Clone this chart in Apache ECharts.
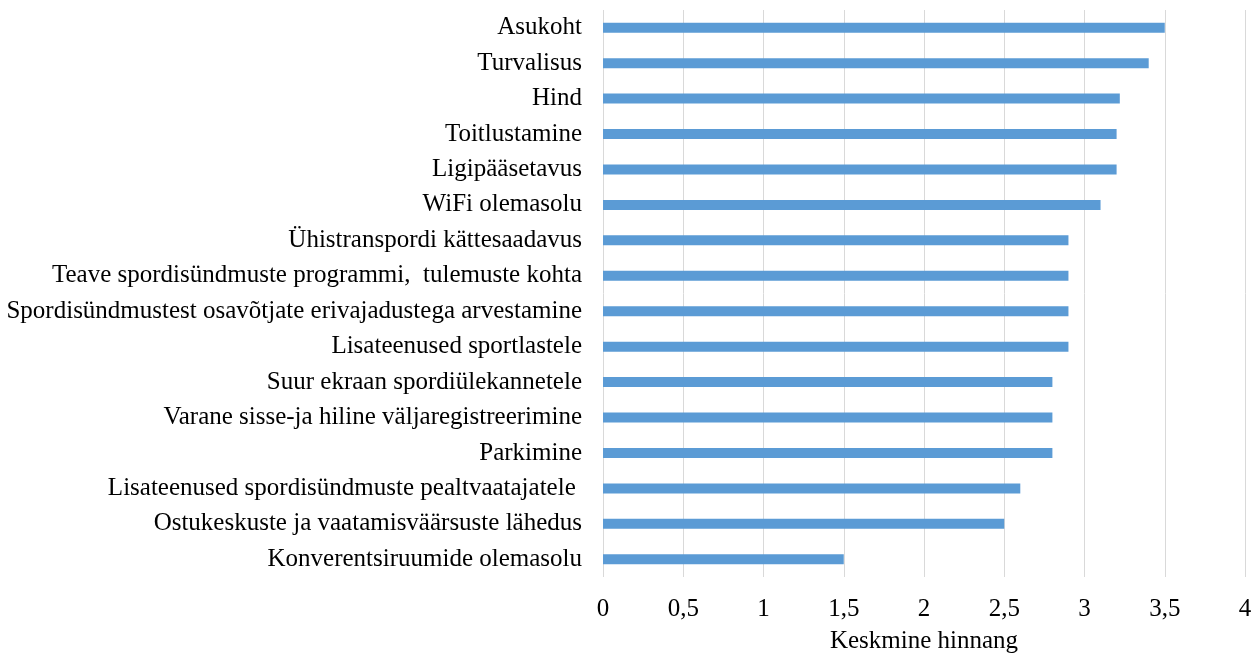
<!DOCTYPE html>
<html><head><meta charset="utf-8">
<script src="https://cdn.jsdelivr.net/npm/echarts@6/dist/echarts.min.js"></script>
<style>html,body{margin:0;padding:0;background:#fff}#c{width:1252px;height:654px}</style>
</head><body><div id="c"></div>
<script>
const categories = [
  "Asukoht",
  "Turvalisus",
  "Hind",
  "Toitlustamine",
  "Ligipääsetavus",
  "WiFi olemasolu",
  "Ühistranspordi kättesaadavus",
  "Teave spordisündmuste programmi,  tulemuste kohta",
  "Spordisündmustest osavõtjate erivajadustega arvestamine",
  "Lisateenused sportlastele",
  "Suur ekraan spordiülekannetele",
  "Varane sisse-ja hiline väljaregistreerimine",
  "Parkimine",
  "Lisateenused spordisündmuste pealtvaatajatele ",
  "Ostukeskuste ja vaatamisväärsuste lähedus",
  "Konverentsiruumide olemasolu"
];
const values = [3.5, 3.4, 3.22, 3.2, 3.2, 3.1, 2.9, 2.9, 2.9, 2.9, 2.8, 2.8, 2.8, 2.6, 2.5, 1.5];
const xTitle = "Keskmine hinnang";

const chart = echarts.init(document.getElementById('c'));
chart.setOption({
  animation: false,
  grid: {left: 603, right: 7, top: 10, bottom: 77, containLabel: false, outerBoundsMode: 'none'},
  xAxis: {
    type: 'value', min: 0, max: 4, interval: 0.5,
    name: xTitle, nameLocation: 'middle', nameGap: 52,
    nameTextStyle: {fontFamily: 'Liberation Serif', fontSize: 25, color: '#000'},
    axisLine: {show: false}, axisTick: {show: false},
    axisLabel: {fontFamily: 'Liberation Serif', fontSize: 25, color: '#000', margin: 20,
      formatter: v => String(v).replace('.', ',')},
    splitLine: {show: true, lineStyle: {color: '#d9d9d9', width: 1}}
  },
  yAxis: {
    type: 'category', data: categories, inverse: true,
    axisLine: {show: false}, axisTick: {show: false},
    axisLabel: {fontFamily: 'Liberation Serif', fontSize: 25, color: '#000', margin: 21}
  },
  series: [{
    type: 'bar', data: values, barWidth: 10,
    itemStyle: {color: '#5B9BD5'}
  }]
});
</script></body></html>
